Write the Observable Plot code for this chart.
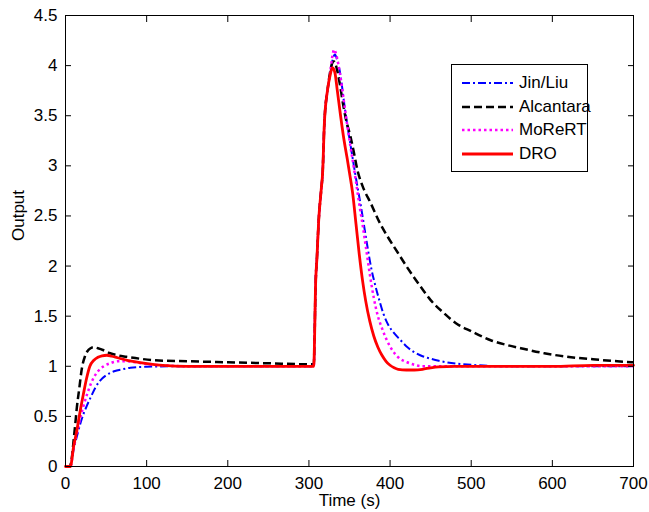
<!DOCTYPE html>
<html>
<head>
<meta charset="utf-8">
<script src="https://cdn.jsdelivr.net/npm/d3@7"></script>
<script src="https://cdn.jsdelivr.net/npm/@observablehq/plot@0.6"></script>
<style>
  body { margin: 0; background: #fff; }
  #wrap { position: relative; width: 649px; height: 512px; font-family: "Liberation Sans", Arial, Helvetica, sans-serif; }
  #legend { position: absolute; left: 451px; top: 64px; width: 137px; height: 108px; border: 1px solid #000; background: #fff; box-sizing: border-box; }
  .lrow { position: absolute; left: 0; height: 24px; width: 135px; }
  .lrow svg { position: absolute; left: 0; top: 0; }
  .lrow span { position: absolute; left: 67px; top: 2px; font-size: 17px; line-height: 20px; color: #000; white-space: nowrap; }
</style>
</head>
<body>
<div id="wrap"></div>
<script>
// ---- series meta ----
const seriesNames = ["Jin/Liu", "Alcantara", "MoReRT", "DRO"];
const seriesColors = ["#0000ff", "#000000", "#ff00ff", "#ff0000"];
const seriesDash = ["8,3,2,3", "8,4", "2.5,3", null];
const seriesWidth = [2, 2.5, 2.5, 2.8];

// ---- axis ticks ----
const xTicks = [0, 100, 200, 300, 400, 500, 600, 700];
const yTicks = [0, 0.5, 1, 1.5, 2, 2.5, 3, 3.5, 4, 4.5];
const xLabel = "Time (s)";
const yLabel = "Output";

// ---- Jin/Liu ----
const jinLiuTime = [0, 6, 10, 14, 18, 22, 26, 31, 37, 43, 50, 60, 70, 80, 100, 130, 200, 250, 300, 306, 307, 308, 310, 312, 315, 317, 319, 323, 326, 329, 332, 335, 339, 343, 347, 351, 355, 359, 364, 368, 372, 377, 382, 386, 392, 398, 405, 413, 420, 430, 440, 446, 460, 483, 500, 520, 550, 600, 650, 700];
const jinLiuOutput = [0, 0, 0.17, 0.3, 0.42, 0.52, 0.6, 0.69, 0.79, 0.86, 0.91, 0.95, 0.97, 0.985, 0.995, 1.0, 1.0, 1.0, 1.0, 1.0, 1.3, 1.75, 2.1, 2.45, 2.75, 2.95, 3.42, 3.76, 3.9, 4.05, 4.11, 4.05, 3.9, 3.65, 3.42, 3.22, 3.02, 2.83, 2.6, 2.4, 2.2, 1.97, 1.8, 1.68, 1.52, 1.41, 1.33, 1.26, 1.2, 1.14, 1.1, 1.085, 1.055, 1.025, 1.015, 1.005, 1.0, 1.0, 1.0, 1.0];

// ---- Alcantara ----
const alcantaraTime = [0, 5, 8, 10, 12, 14, 17, 20, 24, 27, 31, 35, 40, 47, 55, 64, 75, 92, 110, 150, 200, 250, 300, 306, 307, 308, 310, 312, 315, 317, 319, 323, 326, 329, 331, 334, 338, 342, 346, 351, 355, 360, 366, 376, 388, 398, 409, 420, 430, 438, 450, 465, 483, 500, 524, 545, 561, 590, 623, 650, 680, 700];
const alcantaraOutput = [0, 0, 0.1, 0.26, 0.42, 0.59, 0.78, 0.97, 1.1, 1.15, 1.18, 1.19, 1.18, 1.16, 1.13, 1.11, 1.095, 1.075, 1.06, 1.05, 1.04, 1.03, 1.02, 1.02, 1.3, 1.75, 2.1, 2.45, 2.75, 2.95, 3.42, 3.76, 3.93, 4.03, 4.04, 3.98, 3.82, 3.62, 3.45, 3.3, 3.15, 2.95, 2.8, 2.63, 2.42, 2.28, 2.14, 2.0, 1.88, 1.79, 1.66, 1.54, 1.42, 1.35, 1.26, 1.21, 1.18, 1.13, 1.09, 1.07, 1.05, 1.04];

// ---- MoReRT ----
const moReRTTime = [0, 6, 10, 14, 18, 22, 27, 31, 35, 40, 47, 55, 65, 75, 90, 100, 120, 150, 200, 250, 300, 306, 307, 308, 310, 312, 315, 317, 319, 323, 326, 329, 331, 334, 338, 343, 347, 351, 355, 358, 362, 366, 370, 375, 380, 385, 390, 396, 402, 410, 421, 430, 440, 460, 500, 550, 600, 650, 700];
const moReRTOutput = [0, 0, 0.18, 0.33, 0.48, 0.6, 0.73, 0.82, 0.89, 0.95, 1.0, 1.03, 1.05, 1.05, 1.035, 1.02, 1.01, 1.0, 1.0, 1.0, 1.0, 1.0, 1.3, 1.75, 2.1, 2.45, 2.75, 2.95, 3.42, 3.76, 3.92, 4.1, 4.16, 4.1, 3.93, 3.65, 3.42, 3.2, 3.0, 2.84, 2.62, 2.42, 2.2, 1.92, 1.68, 1.5, 1.38, 1.26, 1.17, 1.09, 1.04, 1.015, 1.0, 1.0, 1.0, 1.0, 1.0, 1.0, 1.0];

// ---- DRO ----
const droTime = [0, 6, 10, 14, 18, 22, 26, 30, 35, 40, 45, 51, 57, 64, 76, 90, 103, 120, 150, 200, 250, 300, 306, 307, 308, 310, 312, 315, 317, 319, 323, 326, 329, 332, 335, 339, 343, 347, 350, 354, 358, 362, 366, 370, 375, 380, 385, 390, 395, 400, 405, 410, 420, 430, 440, 450, 460, 480, 550, 600, 650, 700];
const droOutput = [0, 0, 0.2, 0.36, 0.55, 0.72, 0.88, 1.0, 1.06, 1.09, 1.105, 1.11, 1.1, 1.085, 1.06, 1.04, 1.025, 1.01, 1.0, 1.0, 1.0, 1.0, 1.0, 1.3, 1.75, 2.1, 2.45, 2.75, 2.95, 3.42, 3.76, 3.9, 3.98, 3.93, 3.75, 3.5, 3.27, 3.08, 2.93, 2.72, 2.42, 2.12, 1.86, 1.65, 1.45, 1.3, 1.19, 1.11, 1.05, 1.01, 0.985, 0.97, 0.963, 0.963, 0.97, 0.985, 0.995, 1.0, 1.0, 1.0, 1.01, 1.01];

// ---- build table ----
const sources = [[jinLiuTime, jinLiuOutput], [alcantaraTime, alcantaraOutput], [moReRTTime, moReRTOutput], [droTime, droOutput]];
const rows = [];
seriesNames.forEach((name, i) => {
  const [t, v] = sources[i];
  t.forEach((tt, j) => rows.push({series: name, time: tt, output: v[j]}));
});

const lineMarks = seriesNames.map((name, i) => Plot.line(rows.filter(d => d.series === name), {
  x: "time", y: "output",
  stroke: seriesColors[i],
  strokeWidth: seriesWidth[i],
  strokeDasharray: seriesDash[i],
  strokeLinecap: seriesDash[i] ? "butt" : "round",
  strokeLinejoin: "round",
  curve: "monotone-x"
}));

const fontFamily = '"Liberation Sans", Arial, Helvetica, sans-serif';
const fs = 17;

const chart = Plot.plot({
  width: 649,
  height: 512,
  marginTop: 15,
  marginRight: 16,
  marginBottom: 46,
  marginLeft: 65,
  x: {domain: [0, 700]},
  y: {domain: [0, 4.5]},
  style: {fontFamily, fontSize: fs + "px", background: "#fff", color: "#000", overflow: "visible"},
  marks: [
    ...lineMarks,
    Plot.axisX({anchor: "bottom", ticks: xTicks, tickSize: 0, tickPadding: 10, tickFormat: d => String(d), label: null, fontSize: fs}),
    Plot.axisX({anchor: "bottom", ticks: xTicks, tickSize: -6, tickFormat: () => "", label: null}),
    Plot.axisX({anchor: "top", ticks: xTicks, tickSize: -6, tickFormat: () => "", label: null}),
    Plot.axisY({anchor: "left", ticks: yTicks, tickSize: 0, tickPadding: 8, tickFormat: d => String(d), label: null, fontSize: fs}),
    Plot.axisY({anchor: "left", ticks: yTicks, tickSize: -6, tickFormat: () => "", label: null}),
    Plot.axisY({anchor: "right", ticks: yTicks, tickSize: -6, tickFormat: () => "", label: null}),
    Plot.frame({stroke: "#000", strokeWidth: 1}),
    Plot.text([xLabel], {frameAnchor: "bottom", dy: 39, text: d => d, fontSize: fs, fill: "#000"}),
    Plot.text([yLabel], {frameAnchor: "left", dx: -47, rotate: -90, text: d => d, fontSize: fs, fill: "#000"})
  ]
});

const wrap = document.getElementById("wrap");
wrap.appendChild(chart);

// ---- legend (inside the axes, top right) ----
const legend = document.createElement("div");
legend.id = "legend";
seriesNames.forEach((name, i) => {
  const row = document.createElement("div");
  row.className = "lrow";
  row.style.top = (6 + i * 23.7) + "px";
  const svg = d3.create("svg").attr("width", 64).attr("height", 24);
  svg.append("line")
    .attr("x1", 10).attr("x2", 61).attr("y1", 12).attr("y2", 12)
    .attr("stroke", seriesColors[i])
    .attr("stroke-width", seriesWidth[i])
    .attr("stroke-dasharray", seriesDash[i])
    .attr("stroke-linecap", "butt");
  row.appendChild(svg.node());
  const span = document.createElement("span");
  span.textContent = name;
  row.appendChild(span);
  legend.appendChild(row);
});
wrap.appendChild(legend);
</script>
</body>
</html>
